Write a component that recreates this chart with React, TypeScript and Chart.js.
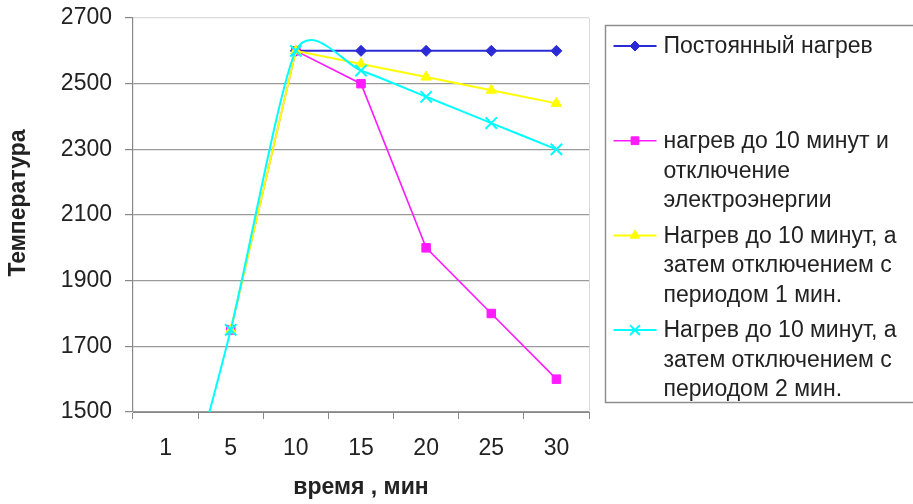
import React, { useEffect, useRef } from 'react';
import { Chart, registerables } from 'chart.js';
import { drawPoint } from 'chart.js/helpers';

Chart.register(...registerables);

// ---- data ----
const categories = ['1', '5', '10', '15', '20', '25', '30'];
const constantHeating = [null, null, 2600, 2600, 2600, 2600, 2600];
const heatThenOff = [null, 1750, 2600, 2500, 2000, 1800, 1600];
const heatPeriod1 = [null, 1750, 2600, 2560, 2520, 2480, 2440];
const heatPeriod2 = [1000, 1750, 2600, 2540, 2460, 2380, 2300];
const yTickValues = [1500, 1700, 1900, 2100, 2300, 2500, 2700];

const seriesNames = [
  ['Постоянный нагрев'],
  ['нагрев до 10 минут и', 'отключение', 'электроэнергии'],
  ['Нагрев до 10 минут, а', 'затем отключением с', 'периодом 1 мин.'],
  ['Нагрев до 10 минут, а', 'затем отключением с', 'периодом 2 мин.'],
];
const xTitle = 'время , мин';
const yTitle = 'Температура';

const FONT = '"Liberation Sans", Arial, sans-serif';
const TEXT = '#222222';

// Excel-like smoothing: uniform Catmull-Rom style control points
const smoothPlugin = {
  id: 'excelSmooth',
  beforeDatasetDraw(chart: any, args: any) {
    const meta = args.meta;
    const ds = chart.data.datasets[args.index];
    if (!ds.excelSmooth) return;
    const line = meta.dataset;
    const pts = meta.data.filter((p: any) => !p.skip);
    const f = ds.excelSmooth;
    for (let i = 0; i < pts.length; i++) {
      const p = pts[i];
      const prev = pts[i - 1] || p;
      const next = pts[i + 1] || p;
      const dx = next.x - prev.x;
      const dy = next.y - prev.y;
      p.cp1x = p.x - f * dx;
      p.cp1y = p.y - f * dy;
      p.cp2x = p.x + f * dx;
      p.cp2y = p.y + f * dy;
    }
    line._pointsUpdated = true;
    delete line._path;
  },
};

const legendPlugin = {
  id: 'sideLegendAndTitles',
  beforeDatasetsDraw(chart: any) {
    const { ctx, chartArea } = chart;
    ctx.save();
    ctx.strokeStyle = '#d9d9d9';
    ctx.lineWidth = 1;
    ctx.beginPath();
    ctx.moveTo(chartArea.right + 0.5, chartArea.top);
    ctx.lineTo(chartArea.right + 0.5, chartArea.bottom);
    ctx.stroke();
    ctx.restore();
  },
  afterDraw(chart: any) {
    const { ctx, chartArea } = chart;
    ctx.save();
    // y title
    ctx.translate(19, (chartArea.top + chartArea.bottom) / 2 - 12);
    ctx.rotate(-Math.PI / 2);
    ctx.font = `bold 23px ${FONT}`;
    ctx.fillStyle = TEXT;
    ctx.textAlign = 'center';
    ctx.textBaseline = 'middle';
    ctx.fillText(yTitle, 0, 0);
    ctx.restore();

    // legend
    const left = chartArea.right + 16.5;
    const top = 25.5;
    ctx.save();
    ctx.strokeStyle = '#8f8f8f';
    ctx.lineWidth = 1.5;
    ctx.strokeRect(left, top, 400, 377);
    ctx.font = `23px ${FONT}`;
    ctx.textBaseline = 'middle';
    ctx.textAlign = 'left';
    chart.data.datasets.forEach((ds: any, i: number) => {
      const y = top + 20.5 + i * 94.7;
      const x0 = left + 8;
      const x1 = left + 51;
      ctx.strokeStyle = ds.borderColor;
      ctx.fillStyle = ds.borderColor;
      ctx.lineWidth = ds.borderWidth;
      ctx.beginPath();
      ctx.moveTo(x0, y);
      ctx.lineTo(x1, y);
      ctx.stroke();
      ctx.lineWidth = ds.pointBorderWidth ?? 1;
      drawPoint(
        ctx,
        { pointStyle: ds.pointStyle, radius: ds.legendRadius, rotation: 0, borderWidth: ds.pointBorderWidth ?? 1 },
        (x0 + x1) / 2,
        y
      );
      ctx.fillStyle = TEXT;
      seriesNames[i].forEach((line, j) => {
        ctx.fillText(line, left + 58, y + 1 + j * 29.5);
      });
    });
    ctx.restore();
  },
};

export default function App() {
  const ref = useRef<HTMLCanvasElement>(null);

  useEffect(() => {
    document.body.style.margin = '0';
    const canvas = ref.current!;
    const chart = new Chart(canvas, {
      type: 'line',
      data: {
        labels: categories,
        datasets: [
          {
            label: seriesNames[0].join(' '),
            data: constantHeating,
            borderColor: '#2b2bd6',
            backgroundColor: '#2b2bd6',
            borderWidth: 2,
            pointStyle: 'rectRot',
            pointRadius: 5.5,
            pointBorderWidth: 1,
            legendRadius: 5,
            tension: 0,
            order: 4,
          } as any,
          {
            label: seriesNames[1].join(' '),
            data: heatThenOff,
            borderColor: '#ff1aff',
            backgroundColor: '#ff1aff',
            borderWidth: 1.6,
            pointStyle: 'rect',
            pointRadius: 6,
            pointBorderWidth: 1,
            legendRadius: 5.5,
            tension: 0,
            order: 3,
          } as any,
          {
            label: seriesNames[2].join(' '),
            data: heatPeriod1,
            borderColor: '#ffff00',
            backgroundColor: '#ffff00',
            borderWidth: 2,
            pointStyle: 'triangle',
            pointRadius: 6,
            pointBorderWidth: 1,
            legendRadius: 5.5,
            tension: 0,
            order: 2,
          } as any,
          {
            label: seriesNames[3].join(' '),
            data: heatPeriod2,
            borderColor: '#00ffff',
            backgroundColor: '#00ffff',
            borderWidth: 2,
            pointStyle: 'crossRot',
            pointRadius: 8,
            pointBorderWidth: 2,
            legendRadius: 7,
            tension: 0.12,
            excelSmooth: 0.12,
            order: 1,
          } as any,
        ],
      },
      options: {
        responsive: false,
        animation: false,
        devicePixelRatio: 1,
        layout: { padding: { top: 18, right: 324, left: 0, bottom: 0 } },
        plugins: {
          legend: { display: false },
          tooltip: { enabled: false },
        },
        scales: {
          x: {
            type: 'category',
            offset: true,
            grid: {
              offset: true,
              drawOnChartArea: false,
              drawTicks: true,
              tickLength: 7,
              color: '#888888',
            },
            border: { display: true, color: '#888888', width: 1 },
            ticks: {
              font: { family: FONT, size: 23 },
              color: TEXT,
              padding: 16,
              maxRotation: 0,
            },
            title: {
              display: true,
              text: xTitle,
              font: { family: FONT, size: 23, weight: 'bold' },
              color: TEXT,
              padding: { top: 0, bottom: 3 },
            },
            afterFit: (scale: any) => {
              scale.height = 92;
            },
          },
          y: {
            type: 'linear',
            min: 1500,
            max: 2700,
            afterBuildTicks: (scale: any) => {
              scale.ticks = yTickValues.map((v) => ({ value: v }));
            },
            grid: {
              drawTicks: true,
              tickLength: 8,
              color: (c: any) => (c.tick && c.tick.value === 2700 ? '#dcdcdc' : '#9a9a9a'),
              tickColor: '#888888',
              lineWidth: 1.2,
            },
            border: { display: true, color: '#888888', width: 1.2 },
            ticks: {
              font: { family: FONT, size: 23 },
              color: TEXT,
              padding: 13,
              callback: (v: any) => String(v),
            },
            afterFit: (scale: any) => {
              scale.width = 133;
              scale.paddingTop = 0;
              scale.paddingBottom = 0;
            },
          },
        },
      },
      plugins: [smoothPlugin, legendPlugin],
    } as any);
    return () => chart.destroy();
  }, []);

  return (
    <div style={{ width: 913, height: 504 }}>
      <canvas ref={ref} width={913} height={504} style={{ display: 'block' }} />
    </div>
  );
}
